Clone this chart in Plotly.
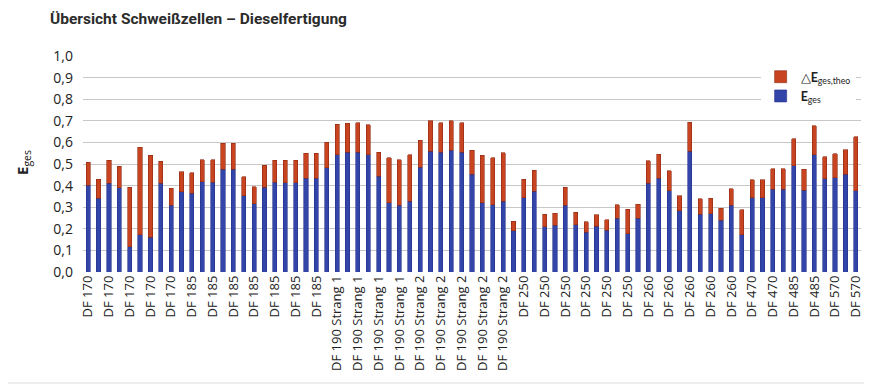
import plotly.graph_objects as go

# E_ges (blue, lower segment) per welding cell bar
e_ges = [0.401, 0.341, 0.412, 0.389, 0.117, 0.173, 0.162, 0.410, 0.310, 0.372,
         0.365, 0.418, 0.416, 0.475, 0.475, 0.353, 0.315, 0.393, 0.415, 0.413,
         0.413, 0.433, 0.433, 0.483, 0.543, 0.555, 0.555, 0.543, 0.444, 0.321,
         0.310, 0.327, 0.486, 0.558, 0.555, 0.563, 0.554, 0.452, 0.321, 0.311,
         0.328, 0.190, 0.344, 0.373, 0.210, 0.217, 0.310, 0.219, 0.183, 0.211,
         0.194, 0.250, 0.176, 0.250, 0.412, 0.435, 0.376, 0.284, 0.558, 0.268,
         0.270, 0.239, 0.310, 0.173, 0.344, 0.344, 0.384, 0.384, 0.493, 0.378,
         0.543, 0.432, 0.436, 0.452, 0.376]

# Delta E_ges,theo (red, upper segment)
delta_e = [0.108, 0.089, 0.105, 0.101, 0.276, 0.404, 0.379, 0.103, 0.077, 0.092,
           0.094, 0.102, 0.104, 0.120, 0.120, 0.089, 0.080, 0.102, 0.103, 0.105,
           0.105, 0.116, 0.116, 0.118, 0.140, 0.134, 0.137, 0.138, 0.111, 0.209,
           0.210, 0.217, 0.123, 0.142, 0.137, 0.138, 0.137, 0.112, 0.220, 0.218,
           0.224, 0.046, 0.086, 0.097, 0.057, 0.056, 0.083, 0.057, 0.050, 0.054,
           0.047, 0.061, 0.115, 0.063, 0.103, 0.111, 0.093, 0.068, 0.136, 0.070,
           0.072, 0.057, 0.075, 0.115, 0.082, 0.082, 0.095, 0.095, 0.125, 0.098,
           0.135, 0.101, 0.111, 0.114, 0.251]

# Visible category labels (every second bar is labelled)
tick_labels = ["DF 170", "DF 170", "DF 170", "DF 170", "DF 170",
               "DF 185", "DF 185", "DF 185", "DF 185", "DF 185", "DF 185", "DF 185",
               "DF 190 Strang 1", "DF 190 Strang 1", "DF 190 Strang 1", "DF 190 Strang 1",
               "DF 190 Strang 2", "DF 190 Strang 2", "DF 190 Strang 2", "DF 190 Strang 2",
               "DF 190 Strang 2",
               "DF 250", "DF 250", "DF 250", "DF 250", "DF 250", "DF 250",
               "DF 260", "DF 260", "DF 260", "DF 260", "DF 260",
               "DF 470", "DF 470", "DF 485", "DF 485", "DF 570", "DF 570"]

y_ticks = [0.0, 0.1, 0.2, 0.3, 0.4, 0.5, 0.6, 0.7, 0.8, 0.9, 1.0]

x_idx = list(range(len(e_ges)))
tick_pos = x_idx[::2]

BLUE = "#3345a8"
RED = "#c8431f"

fig = go.Figure()
fig.add_trace(go.Bar(
    x=x_idx, y=e_ges, name="<b>E</b><sub>ges</sub>",
    marker=dict(color=BLUE, line=dict(color="#24308a", width=0.6)),
))
fig.add_trace(go.Bar(
    x=x_idx, y=delta_e, name="△<b>E</b><sub>ges,theo</sub>",
    marker=dict(color=RED, line=dict(color="#8e2a12", width=0.6)),
))

# the page body has an 8px default margin, so the figure is laid out 8px up/left
fig.update_layout(
    width=872, height=386,
    margin=dict(l=75, r=18.5, t=48, b=122),
    barmode="stack", bargap=0.6,
    paper_bgcolor="white", plot_bgcolor="white",
    separators=",.",
    font=dict(family="Open Sans, DejaVu Sans, sans-serif", color="#222222", size=13),
    title=dict(text="<b>Übersicht Schweißzellen – Dieselfertigung</b>",
               x=42 / 872, xanchor="left", y=1 - 11 / 386, yanchor="middle",
               font=dict(family="Roboto, Liberation Sans, sans-serif", size=15.5, color="#2b2b2b")),
    showlegend=True,
    legend=dict(traceorder="reversed", x=0.871, xanchor="left", y=0.972, yanchor="top",
                bgcolor="white", font=dict(family="Lato, Open Sans, sans-serif", size=12.5, color="#222222"),
                itemwidth=30, tracegroupgap=4),
    xaxis=dict(range=[-0.5, len(e_ges) - 0.5], tickmode="array", tickvals=tick_pos,
               ticktext=tick_labels, tickangle=-90, showgrid=False, zeroline=False,
               showline=False, ticks="", tickfont=dict(size=13, color="#222222"),
               automargin=False),
    yaxis=dict(range=[0, 1.0], tickmode="array", tickvals=y_ticks, tickformat=".1f",
               showgrid=True, gridcolor="#c8c8c8", gridwidth=1.2, zeroline=False,
               showline=False, ticks="", ticklabelstandoff=9,
               tickfont=dict(size=14, color="#222222"), automargin=False),
)

fig.add_annotation(text="<b>E</b><sub>ges</sub>", xref="paper", yref="paper",
                   x=-0.077, xanchor="center", y=0.505, yanchor="middle",
                   textangle=-90, showarrow=False,
                   font=dict(size=15, color="#222222"))

# thin frame line at the bottom of the figure
fig.add_shape(type="line", xref="paper", yref="paper", x0=-0.1, x1=1.03,
              y0=-0.514, y1=-0.514, line=dict(color="#dddddd", width=1))

fig.write_html("out.html")
